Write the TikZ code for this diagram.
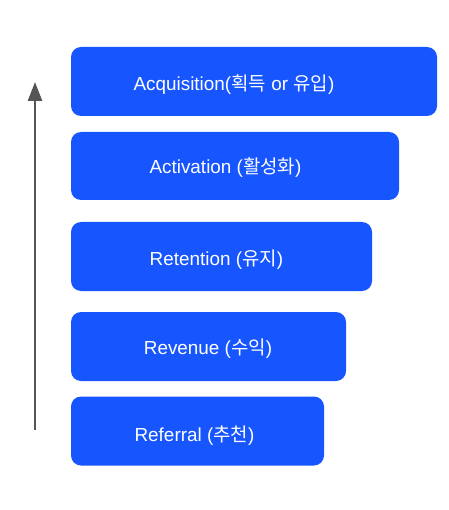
\documentclass[tikz,border=0pt]{standalone}
\usepackage{fontspec}
\setmainfont{Liberation Sans}
\newfontfamily\kr{Noto Sans CJK KR}
\usetikzlibrary{arrows.meta}
\definecolor{boxblue}{RGB}{23,85,255}
\definecolor{arrowgray}{RGB}{85,85,85}
\tikzset{
  stagebox/.style={rectangle, rounded corners=10pt, fill=boxblue, draw=none, inner sep=0pt},
  stagetext/.style={anchor=base, text=white, inner sep=0pt, font=\fontsize{18.9}{22}\selectfont},
}
\begin{document}
\begin{tikzpicture}[x=1pt,y=-1pt]
\useasboundingbox (0,0) rectangle (448,510);
\node[stagebox, minimum width=366pt, minimum height=69pt] (b1) at (254,81.5) {};
\node[stagebox, minimum width=328pt, minimum height=68pt] (b2) at (235,166) {};
\node[stagebox, minimum width=301pt, minimum height=69pt] (b3) at (221.5,256.5) {};
\node[stagebox, minimum width=275pt, minimum height=69pt] (b4) at (208.5,346.5) {};
\node[stagebox, minimum width=253pt, minimum height=69pt] (b5) at (197.5,431) {};
\node[stagetext] (t1) at (234,91) {Acquisition({\kr 획득} or {\kr 유입})};
\node[stagetext] (t2) at (225.5,174) {Activation ({\kr 활성화})};
\node[stagetext] (t3) at (216.5,265) {Retention ({\kr 유지})};
\node[stagetext] (t4) at (208,354) {Revenue ({\kr 수익})};
\node[stagetext] (t5) at (194.5,441) {Referral ({\kr 추천})};
\coordinate (a0) at (35,430);
\coordinate (a1) at (35,82);
\draw[arrowgray, line width=2.7pt, -{Triangle[length=19pt,width=14pt]}] (a0) -- (a1);
\end{tikzpicture}
\end{document}
